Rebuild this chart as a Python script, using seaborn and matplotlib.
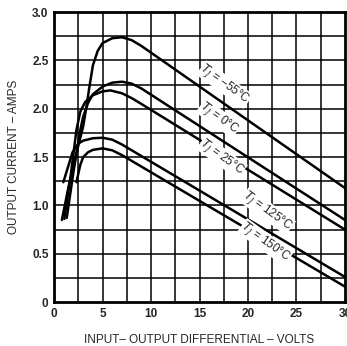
import matplotlib
matplotlib.use("Agg")
import matplotlib.pyplot as plt
import numpy as np
import pandas as pd
import seaborn as sns

# current limit curves (volts, amps)
v_m55 = [0.8, 1.5, 2.2, 2.7, 3.0, 3.3, 3.6, 4.0, 4.5, 5.0, 6.0, 7.0, 8.0, 9.0, 30]
i_m55 = [0.85, 1.20, 1.50, 1.70, 1.82, 2.00, 2.20, 2.45, 2.60, 2.68, 2.73, 2.74, 2.71, 2.65, 1.18]

v_0 = [1.3, 2.0, 2.7, 3.0, 3.5, 4.0, 5.0, 6.0, 7.0, 8.0, 9.0, 30]
i_0 = [0.87, 1.35, 1.78, 1.92, 2.06, 2.15, 2.23, 2.27, 2.28, 2.26, 2.21, 0.85]

v_25 = [1.05, 1.7, 2.3, 2.7, 3.2, 4.0, 5.0, 5.8, 7.0, 8.0, 9.0, 30]
i_25 = [0.86, 1.30, 1.78, 1.97, 2.07, 2.14, 2.18, 2.19, 2.16, 2.11, 2.05, 0.75]

v_125 = [0.95, 1.9, 2.5, 3.0, 4.0, 5.0, 6.0, 7.0, 30]
i_125 = [1.24, 1.55, 1.64, 1.67, 1.695, 1.70, 1.68, 1.63, 0.26]

v_150 = [2.3, 2.7, 3.0, 3.5, 4.0, 5.0, 6.0, 7.0, 30]
i_150 = [1.24, 1.42, 1.50, 1.55, 1.575, 1.59, 1.57, 1.52, 0.16]

labels = ["$T_J$ = \u221255\u00b0C", "$T_J$ = 0\u00b0C", "$T_J$ = 25\u00b0C",
          "$T_J$ = 125\u00b0C", "$T_J$ = 150\u00b0C"]
label_x = [17.6, 17.0, 17.3, 22.0, 21.8]
label_y = [2.25, 1.90, 1.50, 0.94, 0.62]

x_ticks = [0, 5, 10, 15, 20, 25, 30]
y_ticks = [0, 0.5, 1.0, 1.5, 2.0, 2.5, 3.0]
y_tick_labels = ["0", "0.5", "1.0", "1.5", "2.0", "2.5", "3.0"]

curves = [(v_m55, i_m55), (v_0, i_0), (v_25, i_25), (v_125, i_125), (v_150, i_150)]
rows = []
for name, (vs, cs) in zip(labels, curves):
    for k, (v, c) in enumerate(zip(vs, cs)):
        rows.append({"curve": name, "order": k, "volts": v, "amps": c})
df = pd.DataFrame(rows)

sns.set_style("white")
plt.rcParams["font.family"] = ["Liberation Sans", "DejaVu Sans"]

fig = plt.figure(figsize=(3.47, 3.46), dpi=100)
ax = fig.add_axes([0.156, 0.127, 0.838, 0.838])

# fine grid every 2.5 V and 0.25 A
for gx in np.arange(2.5, 30, 2.5):
    ax.axvline(gx, color="black", lw=1.1, zorder=1)
for gy in np.arange(0.25, 3.0, 0.25):
    ax.axhline(gy, color="black", lw=1.1, zorder=1)

sns.lineplot(data=df, x="volts", y="amps", hue="curve", units="curve",
             estimator=None, sort=False, palette=["black"] * 5,
             legend=False, lw=1.8, ax=ax, zorder=3)

for txt, tx, ty in zip(labels, label_x, label_y):
    ax.text(tx, ty, txt, rotation=-36, ha="center", va="center",
            fontsize=8.5, zorder=4,
            bbox=dict(facecolor="white", edgecolor="none", pad=0.2))

ax.set_xlim(0, 30)
ax.set_ylim(0, 3.0)
ax.set_xticks(x_ticks)
ax.set_yticks(y_ticks)
ax.set_yticklabels(y_tick_labels)
ax.tick_params(length=0, labelsize=8.5, pad=4)
for lab in ax.get_xticklabels() + ax.get_yticklabels():
    lab.set_fontweight("bold")
for s in ax.spines.values():
    s.set_linewidth(2)
    s.set_color("black")

ax.set_xlabel("INPUT\u2013 OUTPUT DIFFERENTIAL \u2013 VOLTS", fontsize=8.5, labelpad=10)
ax.set_ylabel("OUTPUT CURRENT \u2013 AMPS", fontsize=8.5, labelpad=9)

fig.savefig("out.png", dpi=100)
